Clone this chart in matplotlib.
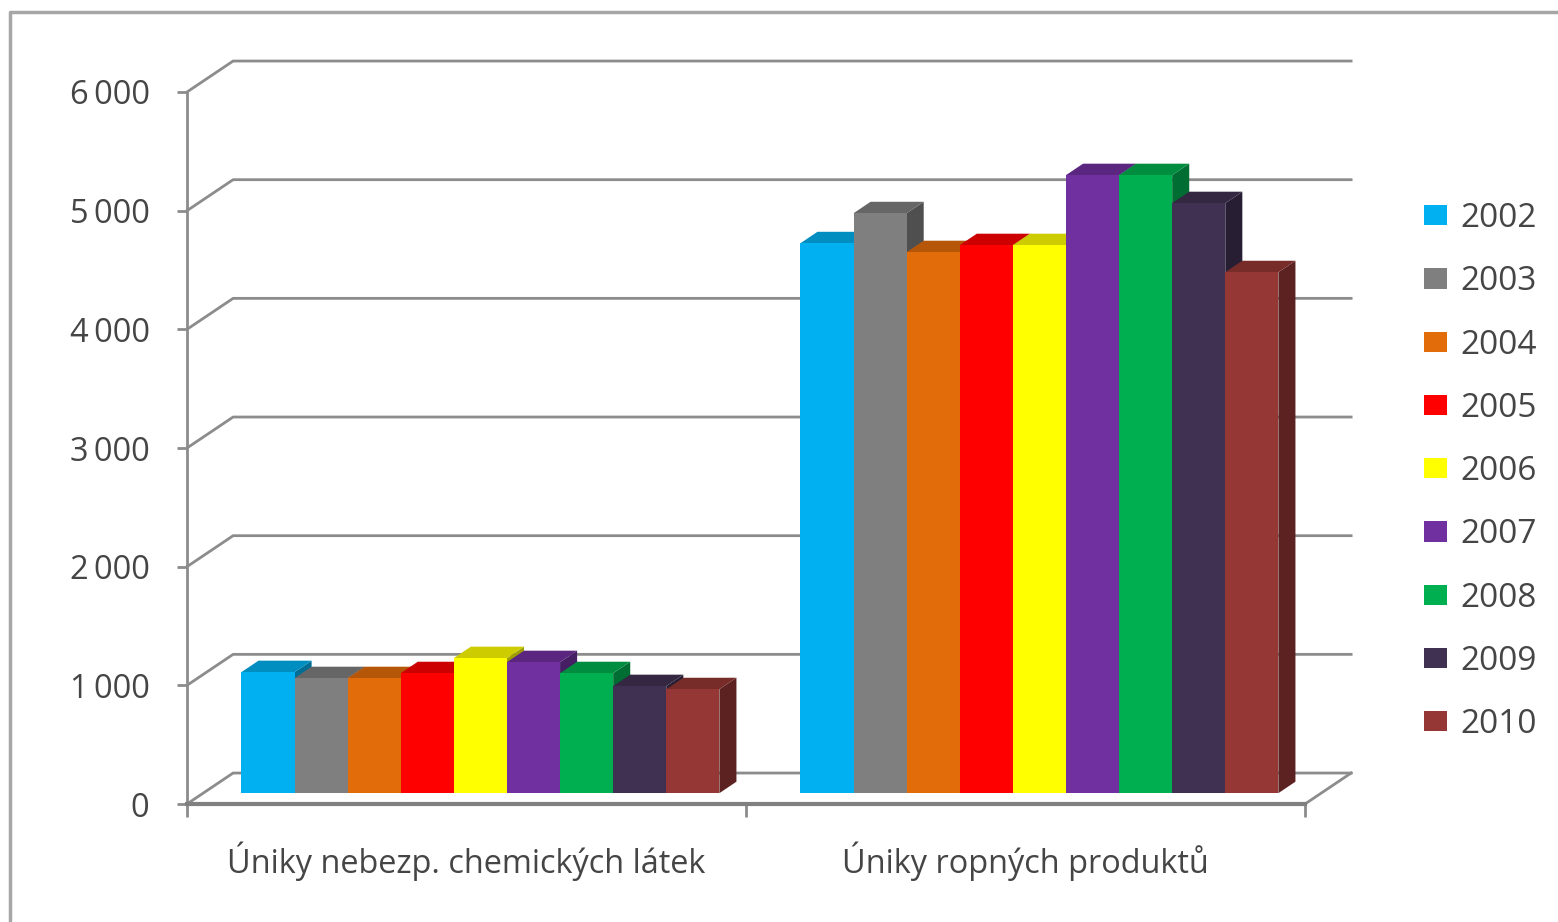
import matplotlib
matplotlib.use("Agg")
import matplotlib.pyplot as plt
from matplotlib.lines import Line2D
from matplotlib.patches import Patch
from matplotlib.colors import to_rgb

years = ["2002", "2003", "2004", "2005", "2006", "2007", "2008", "2009", "2010"]
categories = ["Úniky nebezp. chemických látek", "Úniky ropných produktů"]
chem_values = [1020, 969, 969, 1011, 1138, 1104, 1011, 902, 876]
oil_values = [4634, 4887, 4559, 4618, 4618, 5208, 5208, 4972, 4390]
y_ticks = [0, 1000, 2000, 3000, 4000, 5000, 6000]
y_labels = ["0", "1\u2009000", "2\u2009000", "3\u2009000", "4\u2009000", "5\u2009000", "6\u2009000"]
colors = ["#00B0F0", "#7F7F7F", "#E36C0A", "#FF0000", "#FFFF00",
          "#7030A0", "#00B050", "#403152", "#953735"]

W, H = 1558, 922
plt.rcParams['font.family'] = ['Open Sans', 'DejaVu Sans']
TEXT = "#454545"
GRID = "#8C8C8C"

# depth of the fake 3d box, in data units
DEPTH_X = 0.0825
DEPTH_Y = 261
BAR_W = 0.095
BAR_START = 0.35   # share of the depth where the bar front sits
BAR_DEPTH = 0.37


def shade(color, k):
    return tuple(c * k for c in to_rgb(color))


def drawBar(ax, x, value, color):
    x0 = x + BAR_START * DEPTH_X
    y0 = BAR_START * DEPTH_Y
    dx = BAR_DEPTH * DEPTH_X
    dy = BAR_DEPTH * DEPTH_Y
    x1 = x0 + BAR_W
    top = y0 + value
    # side, top, front
    ax.fill([x1, x1 + dx, x1 + dx, x1], [y0, y0 + dy, top + dy, top],
            color=shade(color, 0.62), lw=0, clip_on=False, zorder=3)
    ax.fill([x0, x0 + dx, x1 + dx, x1], [top, top + dy, top + dy, top],
            color=shade(color, 0.8), lw=0, clip_on=False, zorder=3)
    ax.fill([x0, x1, x1, x0], [y0, y0, top, top],
            color=color, lw=0, clip_on=False, zorder=3)


fig = plt.figure(figsize=(W / 100, H / 100), dpi=100)
ax = fig.add_axes([187 / W, 1 - 804 / H, 1118 / W, 712 / H])
ax.set_xlim(0, 2)
ax.set_ylim(0, 6000)
ax.patch.set_alpha(0)

for s in ["top", "right"]:
    ax.spines[s].set_visible(False)
ax.spines["left"].set_color(GRID)
ax.spines["left"].set_linewidth(2)
ax.spines["bottom"].set_color("#808080")
ax.spines["bottom"].set_linewidth(3)

# walls
for v in y_ticks:
    ax.plot([0, DEPTH_X, 2 + DEPTH_X], [v, v + DEPTH_Y, v + DEPTH_Y],
            color=GRID, lw=2, clip_on=False, zorder=1)
ax.plot([2, 2 + DEPTH_X], [0, DEPTH_Y], color=GRID, lw=2, clip_on=False, zorder=1)

# bars, left to right so the next front hides the side before it
for group, values in enumerate([chem_values, oil_values]):
    for i, v in enumerate(values):
        drawBar(ax, group + 0.0685 + i * BAR_W, v, colors[i])

ax.set_yticks(y_ticks)
ax.set_yticklabels(y_labels, fontsize=23.5, color=TEXT)
ax.tick_params(axis="y", length=7, width=2, color=GRID, pad=20)
ax.set_xticks([0, 1, 2])
ax.set_xticklabels(["", "", ""])
ax.tick_params(axis="x", length=9, width=2, color=GRID)
ax.set_xticks([0.5, 1.5], minor=True)
ax.set_xticklabels(categories, minor=True, fontsize=23.4, color=TEXT)
ax.tick_params(axis="x", which="minor", length=0, pad=27)

handles = [Patch(facecolor=c, edgecolor="none") for c in colors]
ax.legend(handles, years, loc="upper left", bbox_to_anchor=(1237 / 1118, 1 - 110 / 712),
          frameon=False, fontsize=24, labelcolor=TEXT, handlelength=0.7, handleheight=0.55,
          handletextpad=0.4, labelspacing=0.908, borderpad=0, borderaxespad=0)

# picture frame
fig.add_artist(Line2D([10 / W, 10 / W, 1], [0, 1 - 12 / H, 1 - 12 / H],
                      color="#A6A6A6", lw=2.5))

fig.savefig("out.png", dpi=100, facecolor="white")
